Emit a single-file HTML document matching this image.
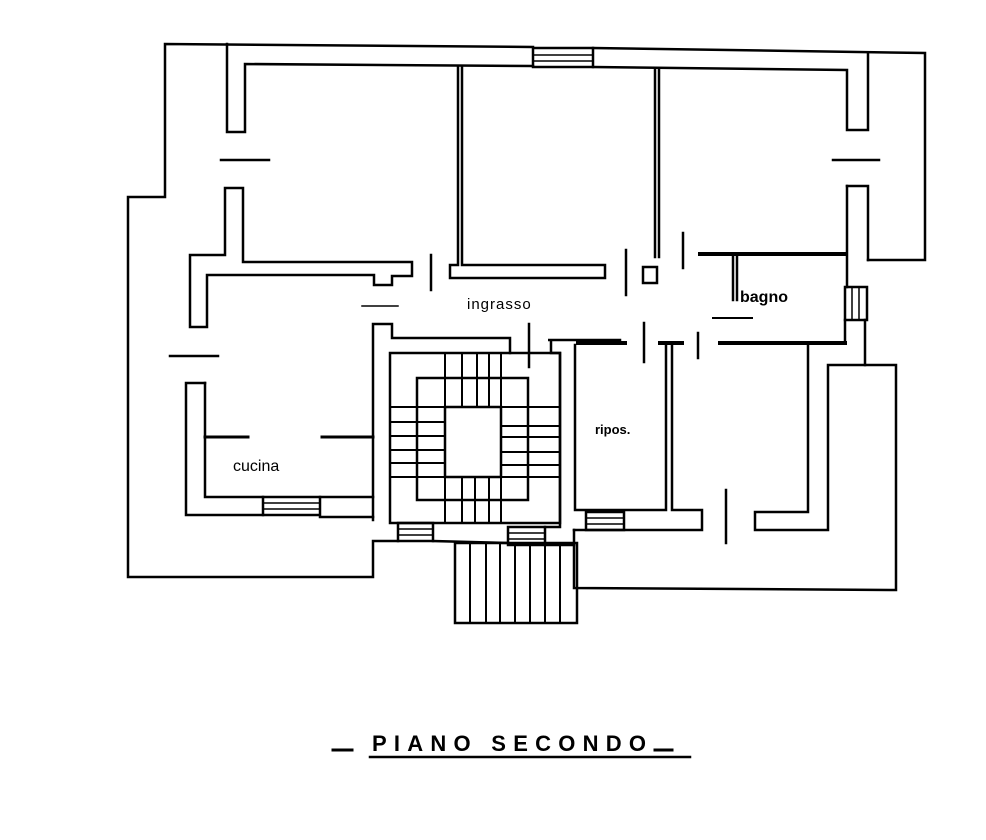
<!DOCTYPE html>
<html><head><meta charset="utf-8"><style>
html,body{margin:0;padding:0;background:#fff;}
svg{display:block;}
text{font-family:"Liberation Sans",sans-serif;fill:#000;}
</style></head><body>
<svg width="986" height="840" viewBox="0 0 986 840" xmlns="http://www.w3.org/2000/svg">
<g fill="none" stroke="#000" stroke-width="2.5" stroke-linecap="square">
<polyline points="533,47 165,44 165,197 128,197 128,577 373,577 373,541 398,541"/>
<polyline points="593,48 925,53 925,260 868,260"/>
<polyline points="865,320 865,365 896,365 896,590 574,588 574,530"/>
<rect x="533" y="48" width="60" height="19"/>
<line x1="533" y1="55" x2="593" y2="55" stroke-width="1.5"/>
<line x1="533" y1="61" x2="593" y2="61" stroke-width="1.5"/>
<polyline points="227,44 227,132 245,132 245,64 533,66"/>
<polyline points="593,67 847,70 847,130 868,130 868,53"/>
<line x1="221" y1="160" x2="269" y2="160"/>
<line x1="833" y1="160" x2="879" y2="160"/>
<line x1="170" y1="356" x2="218" y2="356"/>
<line x1="362" y1="306" x2="398" y2="306" stroke-width="1.5"/>
<line x1="431" y1="255" x2="431" y2="290"/>
<line x1="626" y1="250" x2="626" y2="295"/>
<line x1="683" y1="233" x2="683" y2="268"/>
<line x1="529" y1="324" x2="529" y2="367"/>
<line x1="644" y1="323" x2="644" y2="362"/>
<line x1="698" y1="333" x2="698" y2="358"/>
<line x1="726" y1="490" x2="726" y2="543"/>
<line x1="713" y1="318" x2="752" y2="318" stroke-width="2"/>
<polyline points="225,188 243,188 243,262 412,262 412,276 392,276 392,285 374,285 374,275 207,275 207,327 190,327 190,255 225,255 225,188"/>
<polyline points="458,66 458,265 450,265 450,278 605,278 605,265 462,265 462,66"/>
<polyline points="655,70 655,257"/>
<polyline points="659,70 659,257"/>
<rect x="643" y="267" width="14" height="16"/>
<polyline points="847,186 868,186 868,260"/>
<line x1="847" y1="186" x2="847" y2="287"/>
<rect x="845" y="287" width="22" height="33"/>
<line x1="852" y1="287" x2="852" y2="320" stroke-width="1.5"/>
<line x1="859" y1="287" x2="859" y2="320" stroke-width="1.5"/>
<line x1="845" y1="320" x2="845" y2="343"/>
<line x1="700" y1="254" x2="845" y2="254" stroke-width="4"/>
<line x1="733" y1="254" x2="733" y2="300"/>
<line x1="737" y1="254" x2="737" y2="300"/>
<line x1="720" y1="343" x2="845" y2="343" stroke-width="4"/>
<polyline points="808,345 808,512 755,512 755,530 828,530 828,365 865,365"/>
<line x1="578" y1="343" x2="625" y2="343" stroke-width="4"/>
<line x1="660" y1="343" x2="682" y2="343" stroke-width="4"/>
<polyline points="575,345 575,510 666,510 666,345"/>
<polyline points="672,345 672,510 702,510 702,530 574,530"/>
<rect x="586" y="512" width="38" height="18"/>
<line x1="586" y1="518" x2="624" y2="518" stroke-width="1.5"/>
<line x1="586" y1="524" x2="624" y2="524" stroke-width="1.5"/>
<polyline points="620,340 548,340 551,340 551,353 560,353 560,527 545,527"/>
<polyline points="373,520 373,324 392,324 392,338 510,338 510,353"/>
<rect x="390" y="353" width="170" height="170"/>
<rect x="417" y="378" width="111" height="122"/>
<rect x="445" y="407" width="56" height="70"/>
<g stroke-width="2">
<line x1="462" y1="353" x2="462" y2="407"/><line x1="477" y1="353" x2="477" y2="407"/><line x1="489" y1="353" x2="489" y2="407"/>
<line x1="445" y1="353" x2="445" y2="407"/><line x1="501" y1="353" x2="501" y2="407"/>
<line x1="462" y1="477" x2="462" y2="523"/><line x1="475" y1="477" x2="475" y2="523"/><line x1="489" y1="477" x2="489" y2="523"/>
<line x1="445" y1="477" x2="445" y2="523"/><line x1="501" y1="477" x2="501" y2="523"/>
<line x1="390" y1="407" x2="445" y2="407"/><line x1="390" y1="422" x2="445" y2="422"/><line x1="390" y1="436" x2="445" y2="436"/><line x1="390" y1="450" x2="445" y2="450"/><line x1="390" y1="463" x2="445" y2="463"/><line x1="390" y1="477" x2="445" y2="477"/>
<line x1="501" y1="407" x2="560" y2="407"/><line x1="501" y1="426" x2="560" y2="426"/><line x1="501" y1="437" x2="560" y2="437"/><line x1="501" y1="452" x2="560" y2="452"/><line x1="501" y1="465" x2="560" y2="465"/><line x1="501" y1="477" x2="560" y2="477"/>
</g>
<rect x="398" y="523" width="35" height="18"/>
<line x1="398" y1="529" x2="433" y2="529" stroke-width="1.5"/><line x1="398" y1="535" x2="433" y2="535" stroke-width="1.5"/>
<rect x="508" y="527" width="37" height="18"/>
<line x1="508" y1="533" x2="545" y2="533" stroke-width="1.5"/><line x1="508" y1="539" x2="545" y2="539" stroke-width="1.5"/>
<line x1="433" y1="541" x2="508" y2="543"/>
<line x1="545" y1="545" x2="574" y2="545"/>
<rect x="455" y="543" width="122" height="80"/>
<g stroke-width="2">
<line x1="470" y1="543" x2="470" y2="623"/><line x1="486" y1="543" x2="486" y2="623"/><line x1="500" y1="543" x2="500" y2="623"/><line x1="515" y1="543" x2="515" y2="623"/><line x1="530" y1="543" x2="530" y2="623"/><line x1="545" y1="543" x2="545" y2="623"/><line x1="560" y1="543" x2="560" y2="623"/>
</g>
<polyline points="205,383 186,383 186,515 263,515"/>
<polyline points="205,383 205,497 263,497"/>
<polyline points="320,497 373,497"/>
<polyline points="320,517 373,517"/>
<rect x="263" y="497" width="57" height="18"/>
<line x1="263" y1="503" x2="320" y2="503" stroke-width="1.5"/><line x1="263" y1="509" x2="320" y2="509" stroke-width="1.5"/>
<line x1="205" y1="437" x2="248" y2="437" stroke-width="3"/>
<line x1="322" y1="437" x2="373" y2="437" stroke-width="3"/>
<line x1="370" y1="757" x2="690" y2="757" stroke-width="2.5"/>
<line x1="333" y1="750" x2="352" y2="750" stroke-width="3"/>
<line x1="655" y1="750" x2="672" y2="750" stroke-width="3"/>
</g>
<text x="467" y="309" font-size="15" letter-spacing="1">ingrasso</text>
<text x="740" y="302" font-size="16" font-weight="bold">bagno</text>
<text x="233" y="471" font-size="16">cucina</text>
<text x="595" y="434" font-size="13" font-weight="bold">ripos.</text>
<text x="372" y="751" font-size="22" font-weight="bold" letter-spacing="4" textLength="278">PIANO SECONDO</text>
</svg>
</body></html>
